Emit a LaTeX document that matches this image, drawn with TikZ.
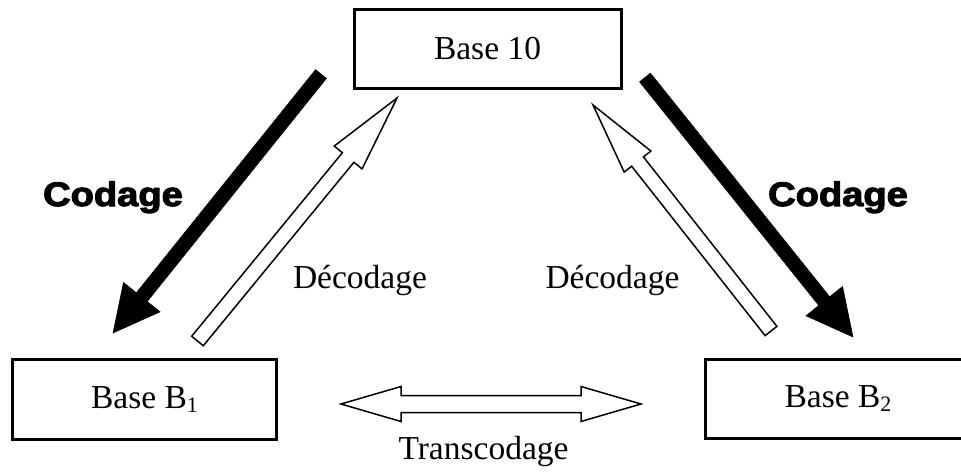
\documentclass[tikz,border=0pt]{standalone}
\usepackage{fontspec}
\setmainfont{Liberation Serif}
\newfontfamily\codfont{Liberation Sans}[BoldFeatures={FakeBold=3}]
\usetikzlibrary{calc}
\newcommand\blockarrow[6]{%
  \coordinate (ba) at ($(#3)!#5!(#2)$);
  \path[#1] ($(#2)!#4!90:(#3)$) -- ($(ba)!#4!90:(#3)$) -- ($(ba)!#6!90:(#3)$)
    -- (#3) -- ($(ba)!#6!-90:(#3)$) -- ($(ba)!#4!-90:(#3)$) -- ($(#2)!#4!-90:(#3)$) -- cycle;
}
\tikzset{
  txt/.style={font=\fontsize{33.5}{40}\selectfont, inner sep=0pt, anchor=base},
  cod/.style={font=\codfont\bfseries\fontsize{34}{40}\selectfont, inner sep=0pt, anchor=base},
  box/.style={draw, line width=3pt, inner sep=0pt, font=\fontsize{33.5}{40}\selectfont},
  blackarr/.style={fill=black, draw=black, line width=0.5pt, line join=miter},
  whitearr/.style={fill=white, draw=black, line width=1.5pt, line join=miter},
}
\newcommand\sub[1]{\raisebox{-4pt}{\fontsize{22}{24}\selectfont #1}}
\begin{document}
\begin{tikzpicture}[x=1pt, y=-1pt]
\useasboundingbox (0,0) rectangle (961,473);
\clip (0,0) rectangle (961,473);
\fill[white] (0,0) rectangle (961,473);
% boxes
\node[box, minimum width=267pt, minimum height=79pt] (b10) at (487.5,49) {Base 10};
\node[box, minimum width=264pt, minimum height=80pt] (b1) at (144.5,399.5) {Base B\sub{1}};
\node[box, minimum width=266pt, minimum height=79pt] (b2) at (838,399) {Base B\sub{2}};
% arrow end points
\coordinate (lct) at (321,74);   \coordinate (lcp) at (113,333);
\coordinate (rct) at (645,77.5); \coordinate (rcp) at (853,337);
\coordinate (ldt) at (197.5,341); \coordinate (ldp) at (397,98);
\coordinate (rdt) at (771,331);   \coordinate (rdp) at (593,105);
\blockarrow{blackarr}{lct}{lcp}{7pt}{46pt}{23.5pt}
\blockarrow{blackarr}{rct}{rcp}{7pt}{46pt}{23.5pt}
\blockarrow{whitearr}{ldt}{ldp}{7.5pt}{77pt}{18pt}
\blockarrow{whitearr}{rdt}{rdp}{7.5pt}{72pt}{17pt}
% transcodage double arrow
\coordinate (tl) at (341,404); \coordinate (tr) at (641,404);
\path[whitearr] (tl) -- ($(tl)+(60,-17.5)$) -- ($(tl)+(60,-8.5)$) -- ($(tr)+(-60,-8.5)$)
  -- ($(tr)+(-60,-17.5)$) -- (tr) -- ($(tr)+(-60,17.5)$) -- ($(tr)+(-60,8.5)$)
  -- ($(tl)+(60,8.5)$) -- ($(tl)+(60,17.5)$) -- cycle;
% labels
\node[cod] (c1) at (113,206) {\scalebox{1.12}[1]{Codage}};
\node[cod] (c2) at (838,206) {\scalebox{1.12}[1]{Codage}};
\node[txt] (d1) at (360,288) {Décodage};
\node[txt] (d2) at (612.5,288) {Décodage};
\node[txt] (tc) at (483.5,459) {Transcodage};
\end{tikzpicture}
\end{document}
